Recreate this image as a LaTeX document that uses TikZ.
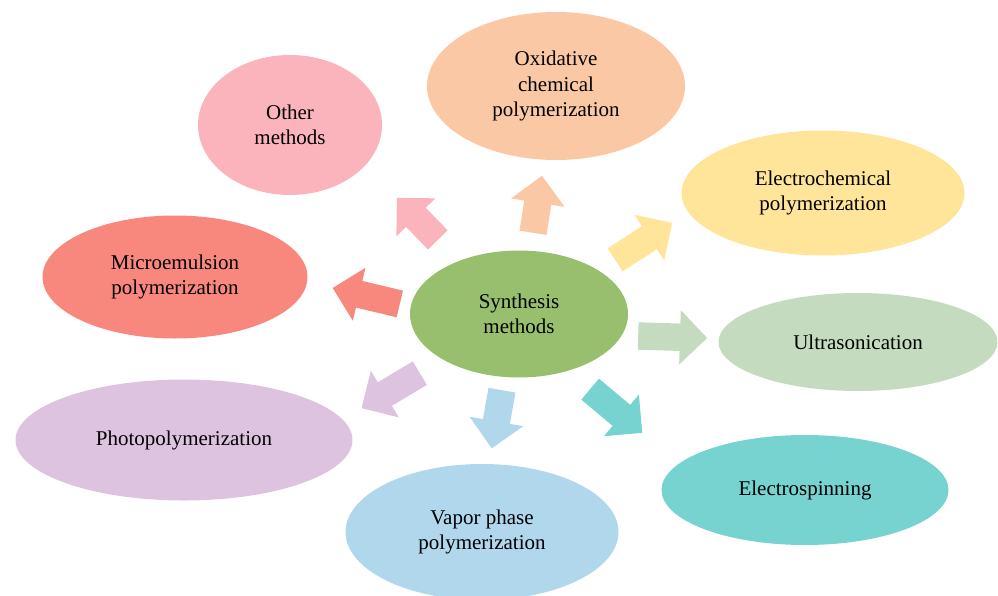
\documentclass[tikz,border=0pt]{standalone}
\usepackage{fontspec}
\setmainfont{Liberation Serif}
\usepackage{xcolor}
\usepackage{tikz}
\usetikzlibrary{shapes.geometric, shapes.arrows, positioning}
\definecolor{cgreen}{HTML}{98BF6D}
\definecolor{cpink}{HTML}{FBB4BC}
\definecolor{cpeach}{HTML}{FBC8A5}
\definecolor{cyellow}{HTML}{FEE599}
\definecolor{cmint}{HTML}{C5DBC0}
\definecolor{cteal}{HTML}{76D3CF}
\definecolor{cblue}{HTML}{B0D7EB}
\definecolor{clilac}{HTML}{DDC3DF}
\definecolor{csalmon}{HTML}{F8877D}
\tikzset{
  method/.style={ellipse, inner sep=0pt, align=center, font=\fontsize{21}{25.5}\selectfont},
  blockarrow/.style={single arrow, draw=none, inner xsep=0pt, inner ysep=13.5pt,
    single arrow head extend=13.5pt, anchor=tail},
}

\begin{document}
\begin{tikzpicture}[x=1pt, y=1pt]
    \useasboundingbox (0,0) rectangle (998,-596);
    % central node
    \node[method, fill=cgreen, minimum width=218, minimum height=127] (synth) at (519,-314) {Synthesis\\methods};
    % methods
    \node[method, fill=cpink, minimum width=184, minimum height=140] (other) at (290,-125) {Other\\methods};
    \node[method, fill=cpeach, minimum width=258, minimum height=148] (oxid) at (556,-86) {Oxidative\\chemical\\polymerization};
    \node[method, fill=cyellow, minimum width=283, minimum height=125] (echem) at (823,-193) {Electrochemical\\polymerization};
    \node[method, fill=cmint, minimum width=279, minimum height=98] (ultra) at (858,-342) {Ultrasonication};
    \node[method, fill=cteal, minimum width=287, minimum height=110] (espin) at (805,-490) {Electrospinning};
    \node[method, fill=cblue, minimum width=273, minimum height=136] (vapor) at (482,-532) {Vapor phase\\polymerization};
    \node[method, fill=clilac, minimum width=337, minimum height=121] (photo) at (184,-440) {Photopolymerization};
    \node[method, fill=csalmon, minimum width=265, minimum height=123] (micro) at (175,-277) {Microemulsion\\polymerization};
    % arrows
    \node[blockarrow, fill=cpink, minimum height=58.7, rotate=134.3] (toother) at (438,-240) {};
    \node[blockarrow, fill=cpeach, minimum height=57.7, rotate=81] (tooxid) at (533,-233) {};
    \node[blockarrow, fill=cyellow, minimum height=68, rotate=33] (toechem) at (615,-260) {};
    \node[blockarrow, fill=cmint, minimum height=69, rotate=-1.7] (toultra) at (638,-336) {};
    \node[blockarrow, fill=cteal, minimum height=68, rotate=-40] (toespin) at (590,-389) {};
    \node[blockarrow, fill=cblue, minimum height=59, rotate=260] (tovapor) at (502,-390) {};
    \node[blockarrow, fill=clilac, minimum height=68, rotate=211] (tophoto) at (420,-373) {};
    \node[blockarrow, fill=csalmon, minimum height=69, rotate=166.6] (tomicro) at (400,-304) {};
\end{tikzpicture}
\end{document}
